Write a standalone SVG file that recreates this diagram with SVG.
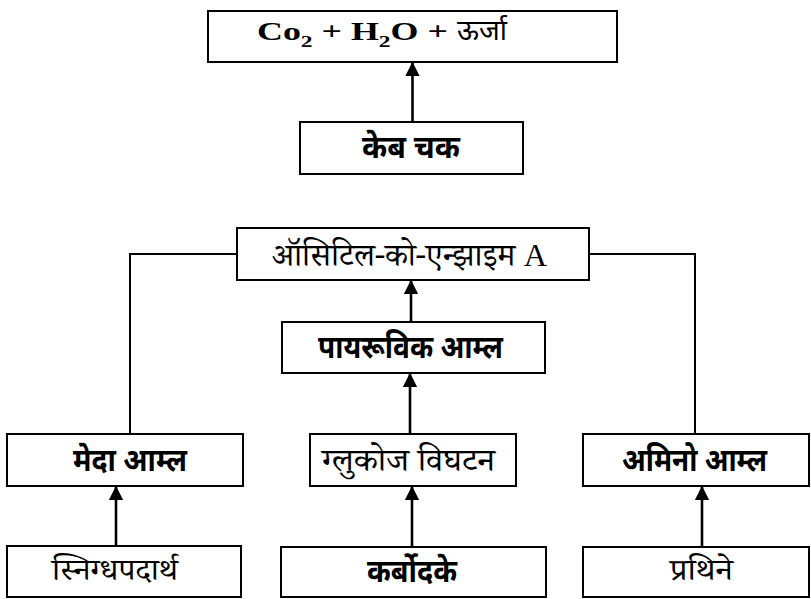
<svg xmlns="http://www.w3.org/2000/svg" width="811" height="599" viewBox="0 0 811 599">
<style>
.box{fill:#fff;stroke:#000;stroke-width:2}
.conn{fill:none;stroke:#000;stroke-width:2}
.arr{fill:none;stroke:#000;stroke-width:2.6}
.b{font-family:"Noto Sans Devanagari","Lohit Devanagari","Noto Sans","Liberation Sans",sans-serif;font-size:32px;font-weight:bold;text-anchor:middle;fill:#000}
.r{font-family:"Noto Serif Devanagari","Noto Sans Devanagari","Lohit Devanagari","Liberation Serif",serif;font-size:32px;text-anchor:middle;fill:#000}
.rs{font-size:30px}
.t{font-family:"Liberation Serif","Times New Roman",serif;font-size:26px;font-weight:bold;fill:#000}
.d{font-family:"Noto Sans Devanagari","Lohit Devanagari",sans-serif;font-size:28px;fill:#000}
</style>
<defs>
<marker id="ah" viewBox="0 0 12 12" refX="11" refY="6" markerWidth="5.5" markerHeight="5.5" orient="auto" markerUnits="strokeWidth">
<path d="M0,0 L12,6 L0,12 Z" fill="#000"/>
</marker>
</defs>
<g id="connectors">
<line class="arr" x1="412.5" y1="122" x2="412.5" y2="63" marker-end="url(#ah)"/>
<line class="arr" x1="411" y1="322" x2="411" y2="281" marker-end="url(#ah)"/>
<line class="arr" x1="410" y1="434" x2="410" y2="374" marker-end="url(#ah)"/>
<line class="arr" x1="412" y1="547" x2="412" y2="487" marker-end="url(#ah)"/>
<line class="arr" x1="116" y1="546" x2="116" y2="487" marker-end="url(#ah)"/>
<line class="arr" x1="702" y1="547" x2="702" y2="487" marker-end="url(#ah)"/>
<polyline class="conn" points="237,254 130,254 130,434"/>
<polyline class="conn" points="589,254 695,254 695,434"/>
</g>
<g id="n-top">
<rect class="box" x="208" y="11" width="409" height="51"/>
<text class="t" transform="translate(257,40) scale(1.38,1)" x="0" y="0">Co<tspan font-size="17" dy="7">2</tspan><tspan dy="-7"> + H</tspan><tspan font-size="17" dy="7">2</tspan><tspan dy="-7">O +</tspan></text>
<text class="d" x="457" y="40">ऊर्जा</text>
</g>
<g id="n-krebs">
<rect class="box" x="300" y="122" width="223" height="52"/>
<text class="b" x="411" y="158" textLength="98" lengthAdjust="spacingAndGlyphs">केब चक</text>
</g>
<g id="n-acetyl">
<rect class="box" x="237" y="228" width="352" height="52"/>
<text class="r" x="409.5" y="266" textLength="275" lengthAdjust="spacingAndGlyphs">ऑसिटिल-को-एन्झाइम <tspan font-family="Liberation Serif,serif" font-size="32">A</tspan></text>
</g>
<g id="n-pyruvic">
<rect class="box" x="282" y="322" width="263" height="51"/>
<text class="b" x="410.5" y="358" textLength="185" lengthAdjust="spacingAndGlyphs">पायरूविक आम्ल</text>
</g>
<g id="n-fatty">
<rect class="box" x="7" y="434" width="236" height="52"/>
<text class="b" x="130" y="471" textLength="114" lengthAdjust="spacingAndGlyphs">मेदा आम्ल</text>
</g>
<g id="n-glycolysis">
<rect class="box" x="310" y="434" width="206" height="52"/>
<text class="r" x="408.5" y="471" textLength="173" lengthAdjust="spacingAndGlyphs">ग्लुकोज विघटन</text>
</g>
<g id="n-amino">
<rect class="box" x="583" y="434" width="226" height="52"/>
<text class="b" x="694.5" y="471" textLength="145" lengthAdjust="spacingAndGlyphs">अमिनो आम्ल</text>
</g>
<g id="n-lipids">
<rect class="box" x="7" y="546" width="234" height="51"/>
<text class="r rs" x="115" y="580" textLength="126" lengthAdjust="spacingAndGlyphs">स्निग्धपदार्थ</text>
</g>
<g id="n-carbs">
<rect class="box" x="281" y="547" width="265" height="50"/>
<text class="b" x="412" y="582" textLength="90" lengthAdjust="spacingAndGlyphs">कर्बोदके</text>
</g>
<g id="n-proteins">
<rect class="box" x="583" y="547" width="226" height="50"/>
<text class="r rs" x="701.5" y="580" textLength="63" lengthAdjust="spacingAndGlyphs">प्रथिने</text>
</g>
</svg>
